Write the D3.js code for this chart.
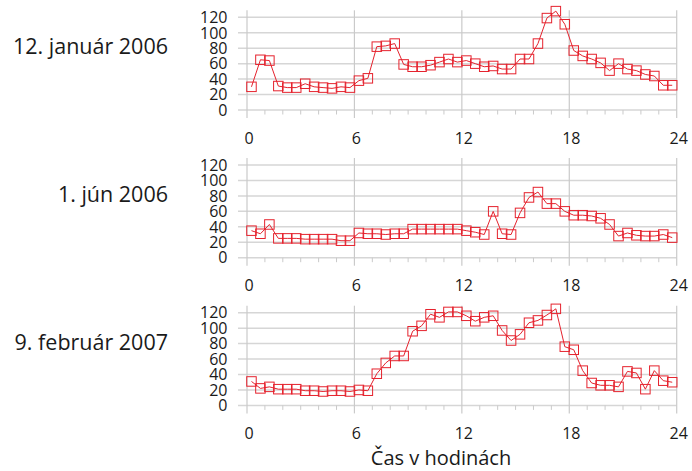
<!DOCTYPE html>
<html>
<head>
<meta charset="utf-8">
<script src="https://cdn.jsdelivr.net/npm/d3@7"></script>
<style>
  body { margin: 0; background: #fff; }
  text { font-family: "Open Sans", "Noto Sans", sans-serif; fill: #1a1a1a; }
</style>
</head>
<body>
<div class="container"></div>
<script>
const WIDTH = 692;
const HEIGHT = 471;

// half-hour centres
var hours = [0.25,0.75,1.25,1.75,2.25,2.75,3.25,3.75,4.25,4.75,5.25,5.75,
  6.25,6.75,7.25,7.75,8.25,8.75,9.25,9.75,10.25,10.75,11.25,11.75,
  12.25,12.75,13.25,13.75,14.25,14.75,15.25,15.75,16.25,16.75,17.25,17.75,
  18.25,18.75,19.25,19.75,20.25,20.75,21.25,21.75,22.25,22.75,23.25,23.75];

var dayTitles = ["12. január 2006", "1. jún 2006", "9. február 2007"];

var jan2006 = [30,65,64,31,29,29,34,30,29,28,30,29,
  38,41,82,83,86,59,56,56,58,62,66,62,
  64,60,56,57,53,53,66,66,86,119,128,111,
  77,70,66,61,51,60,53,51,46,44,32,32];

var jun2006 = [35,31,43,25,25,25,24,24,24,24,22,22,
  32,31,31,30,31,31,37,37,37,37,37,37,
  35,33,30,60,31,30,58,78,85,70,70,60,
  55,55,54,51,43,28,32,29,28,28,30,26];

var feb2007 = [31,22,24,21,21,21,19,19,18,19,19,18,
  20,19,41,55,64,64,96,103,118,114,121,121,
  116,109,114,116,97,84,92,107,110,117,125,76,
  72,45,29,26,26,24,44,42,21,45,32,30];

var series = [jan2006, jun2006, feb2007];

var yTicks = [0,20,40,60,80,100,120];
var xTicks = [0,6,12,18,24];
var minorTicks = [1,2,3,4,5,7,8,9,10,11,13,14,15,16,17,19,20,21,22,23];
var xTitle = "Čas v hodinách";

const RED = "#e5222d";
const PANEL_TOP = 17.3;
const PANEL_STEP = 147.7;
const PANEL_H = 92.7;

var svg = d3.select('.container').append('svg')
  .attr('width', WIDTH)
  .attr('height', HEIGHT);

var xScale = d3.scaleLinear()
  .domain([0, 24])
  .range([247, 676.7]);

var line = d3.line()
  .x(function(d){ return xScale(d[0]); })
  .y(function(d){ return d[1]; });

series.forEach(function(values, p) {
  var top = PANEL_TOP + p * PANEL_STEP;
  var yScale = d3.scaleLinear()
    .domain([0, 120])
    .range([top + PANEL_H, top]);

  var g = svg.append('g');

  // horizontal grid
  g.selectAll('line.h')
    .data(yTicks)
    .enter().append('line')
    .attr('x1', 238).attr('x2', xScale(24))
    .attr('y1', function(d){ return yScale(d); })
    .attr('y2', function(d){ return yScale(d); })
    .attr('stroke', '#d6d6d6')
    .attr('stroke-width', 1.5);

  // major vertical lines
  g.selectAll('line.v')
    .data(xTicks)
    .enter().append('line')
    .attr('x1', function(d){ return xScale(d); })
    .attr('x2', function(d){ return xScale(d); })
    .attr('y1', top - 7)
    .attr('y2', top + PANEL_H + 8)
    .attr('stroke', '#cacaca')
    .attr('stroke-width', 1.2);

  // minor ticks
  g.selectAll('line.m')
    .data(minorTicks)
    .enter().append('line')
    .attr('x1', function(d){ return xScale(d); })
    .attr('x2', function(d){ return xScale(d); })
    .attr('y1', top + PANEL_H)
    .attr('y2', top + PANEL_H + 4.5)
    .attr('stroke', '#cacaca')
    .attr('stroke-width', 1);

  // y labels
  g.selectAll('text.y')
    .data(yTicks)
    .enter().append('text')
    .attr('x', 227.5)
    .attr('y', function(d){ return yScale(d); })
    .attr('dy', '0.36em')
    .attr('text-anchor', 'end')
    .attr('font-size', 16)
    .text(function(d){ return d; });

  // x labels
  g.selectAll('text.x')
    .data(xTicks)
    .enter().append('text')
    .attr('x', function(d){ return xScale(d) + 2; })
    .attr('y', top + PANEL_H + 33.5)
    .attr('text-anchor', 'middle')
    .attr('font-size', 16)
    .text(function(d){ return d; });

  // panel title
  g.append('text')
    .attr('x', 168)
    .attr('y', top + 37)
    .attr('text-anchor', 'end')
    .attr('font-size', 21.5)
    .text(dayTitles[p]);

  var pts = values.map(function(v, i){ return [hours[i], yScale(v)]; });

  g.append('path')
    .datum(pts)
    .attr('d', line)
    .attr('fill', 'none')
    .attr('stroke', RED)
    .attr('stroke-width', 1);

  g.selectAll('rect')
    .data(pts)
    .enter().append('rect')
    .attr('x', function(d){ return xScale(d[0]) - 4.75; })
    .attr('y', function(d){ return d[1] - 4.75; })
    .attr('width', 9.5)
    .attr('height', 9.5)
    .attr('fill', 'none')
    .attr('stroke', RED)
    .attr('stroke-width', 1);
});

svg.append('text')
  .attr('x', 441)
  .attr('y', 465)
  .attr('text-anchor', 'middle')
  .attr('font-size', 20)
  .text(xTitle);
</script>
</body>
</html>
